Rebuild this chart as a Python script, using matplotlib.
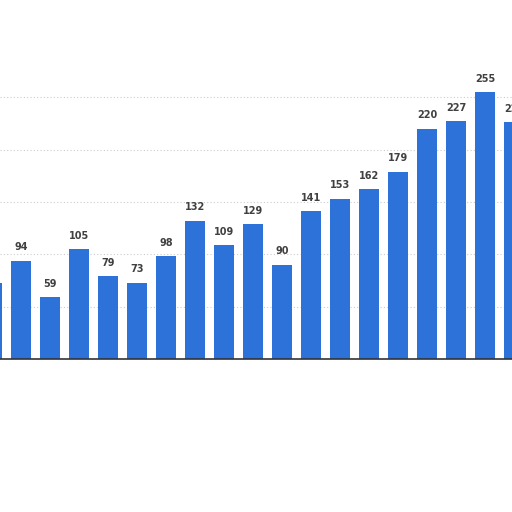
import matplotlib
matplotlib.use("Agg")
import matplotlib.pyplot as plt

values = [73, 94, 59, 105, 79, 73, 98, 132, 109, 129, 90, 141, 153, 162, 179, 220, 227, 255, 226]
labels = [str(v) for v in values]
grid_vals = [50, 100, 150, 200, 250]

fig = plt.figure(figsize=(5.12, 5.12), dpi=100)
ax = fig.add_axes([0, 0, 1, 1])
x = list(range(len(values)))
ax.bar(x, values, width=0.71, color="#2c72d9", zorder=3)
for xi, v, lab in zip(x, values, labels):
    ax.text(xi, v + 8, lab, ha="center", va="bottom", fontsize=7,
            fontweight="bold", color="#404040", zorder=4)
for g in grid_vals:
    ax.axhline(g, color="#cccccc", linestyle=(0, (1, 2)), linewidth=0.8, zorder=1)
ax.axhline(0, color="#333333", linewidth=1.2, zorder=5)

x0 = 1 - 21 / 29
ax.set_xlim(x0, x0 + 512 / 29)
ax.set_ylim(-153 / 1.047, (512 - 153) / 1.047)
ax.axis("off")
fig.savefig("out.png", dpi=100, facecolor="white")
